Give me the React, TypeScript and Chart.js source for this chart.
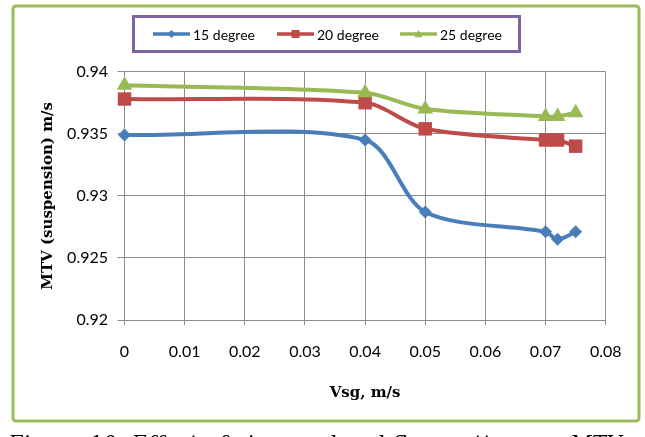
import React, { useEffect, useRef } from 'react';
import { Chart, registerables } from 'chart.js';

Chart.register(...registerables);

// ---- Data ----
const vsg = [0, 0.04, 0.05, 0.07, 0.072, 0.075];
const deg15 = [0.9349, 0.9345, 0.9287, 0.9271, 0.9265, 0.9271];
const deg20 = [0.9378, 0.9375, 0.9354, 0.9345, 0.9345, 0.934];
const deg25 = [0.9389, 0.9383, 0.937, 0.9364, 0.9364, 0.9367];
const seriesNames = ['15 degree', '20 degree', '25 degree'];
const xTickValues = [0, 0.01, 0.02, 0.03, 0.04, 0.05, 0.06, 0.07, 0.08];
const xTickLabels = ['0', '0.01', '0.02', '0.03', '0.04', '0.05', '0.06', '0.07', '0.08'];
const yTickValues = [0.92, 0.925, 0.93, 0.935, 0.94];
const yTickLabels = ['0.92', '0.925', '0.93', '0.935', '0.94'];
const xTitle = 'Vsg, m/s';
const yTitle = 'MTV (suspension) m/s';
const caption = 'Figure 10: Effect of air speed and flow pattern on MTV';

// ---- Styles ----
const colors = ['#4A7EBB', '#BE4B48', '#98B954'];
const markers = ['rectRot', 'rect', 'triangle'];
const markerRadius = [6.5, 9.5, 9];
const legendItemX = [153, 277, 400];

function drawMarker(ctx: CanvasRenderingContext2D, style: string, x: number, y: number, r: number, color: string) {
  ctx.save();
  ctx.fillStyle = color;
  ctx.beginPath();
  if (style === 'rectRot') {
    ctx.moveTo(x, y - r);
    ctx.lineTo(x + r, y);
    ctx.lineTo(x, y + r);
    ctx.lineTo(x - r, y);
  } else if (style === 'rect') {
    ctx.rect(x - r, y - r, 2 * r, 2 * r);
  } else {
    ctx.moveTo(x, y - r);
    ctx.lineTo(x + r, y + r * 0.8);
    ctx.lineTo(x - r, y + r * 0.8);
  }
  ctx.closePath();
  ctx.fill();
  ctx.restore();
}

const framePlugin = {
  id: 'frame',
  beforeDraw(chart: any) {
    const ctx = chart.ctx as CanvasRenderingContext2D;
    ctx.save();
    ctx.fillStyle = '#ffffff';
    ctx.fillRect(0, 0, chart.width, chart.height);
    ctx.strokeStyle = '#9BBB59';
    ctx.lineWidth = 3;
    ctx.beginPath();
    (ctx as any).roundRect ? (ctx as any).roundRect(13, 6, 626, 415, 3) : ctx.rect(13, 6, 626, 415);
    ctx.stroke();
    ctx.restore();
  },
  afterDraw(chart: any) {
    const ctx = chart.ctx as CanvasRenderingContext2D;
    ctx.save();
    ctx.strokeStyle = '#8064A2';
    ctx.lineWidth = 3;
    ctx.strokeRect(133.5, 16.5, 386, 35);
    const cy = 34;
    ctx.font = '14px Lato';
    ctx.textBaseline = 'middle';
    ctx.textAlign = 'left';
    seriesNames.forEach((name, i) => {
      const x0 = legendItemX[i];
      ctx.strokeStyle = colors[i];
      ctx.lineWidth = 3.5;
      ctx.beginPath();
      ctx.moveTo(x0, cy);
      ctx.lineTo(x0 + 37, cy);
      ctx.stroke();
      drawMarker(ctx, markers[i], x0 + 18.5, cy, 4, colors[i]);
      ctx.fillStyle = '#000000';
      ctx.fillText(name, x0 + 40, cy + 1);
    });
    ctx.restore();
  },
};

export default function App() {
  const canvasRef = useRef<HTMLCanvasElement | null>(null);

  useEffect(() => {
    const canvas = canvasRef.current;
    if (!canvas) return;
    const seriesData = [deg15, deg20, deg25];
    const chart = new Chart(canvas, {
      type: 'scatter',
      data: {
        datasets: seriesData.map((vals, i) => ({
          label: seriesNames[i],
          data: vsg.map((x, j) => ({ x, y: vals[j] })),
          showLine: true,
          borderColor: colors[i],
          backgroundColor: colors[i],
          borderWidth: 4,
          tension: 0.3,
          pointStyle: markers[i] as any,
          pointRadius: markerRadius[i],
          pointBorderWidth: 0,
          pointBackgroundColor: colors[i],
          order: 2 - i,
          clip: false as any,
        })),
      },
      options: {
        responsive: false,
        animation: false,
        devicePixelRatio: 1,
        layout: { padding: { left: 0, top: 71.7, right: 39.3, bottom: 0 } },
        plugins: {
          legend: { display: false },
          tooltip: { enabled: false },
          title: { display: false },
        },
        scales: {
          x: {
            type: 'linear',
            min: 0,
            max: 0.08,
            afterBuildTicks: (scale: any) => {
              scale.ticks = xTickValues.map((v) => ({ value: v }));
            },
            afterFit: (scale: any) => {
              scale.height = 117;
            },
            ticks: {
              color: '#000000',
              font: { family: 'Lato', size: 16 },
              padding: 17,
              maxRotation: 0,
              autoSkip: false,
              callback: (_v: any, i: number) => xTickLabels[i],
            },
            grid: { color: '#8C8C8C', lineWidth: 1, tickLength: 5, drawTicks: true },
            border: { color: '#8C8C8C', width: 1 },
            title: {
              display: true,
              text: xTitle,
              color: '#000000',
              font: { family: 'DejaVu Serif', size: 15, weight: 'bold' },
              padding: { top: 0, bottom: 35 },
            },
          },
          y: {
            type: 'linear',
            min: 0.92,
            max: 0.94,
            afterBuildTicks: (scale: any) => {
              scale.ticks = yTickValues.map((v) => ({ value: v }));
            },
            afterFit: (scale: any) => {
              scale.width = 124.5;
            },
            ticks: {
              color: '#000000',
              font: { family: 'Lato', size: 16 },
              padding: 9.5,
              autoSkip: false,
              callback: (_v: any, i: number) => yTickLabels[i],
            },
            grid: { color: '#8C8C8C', lineWidth: 1, tickLength: 7, drawTicks: true },
            border: { color: '#8C8C8C', width: 1 },
            title: {
              display: true,
              text: yTitle,
              color: '#000000',
              font: { family: 'DejaVu Serif', size: 15, weight: 'bold' },
              padding: { top: 39, bottom: 0 },
            },
          },
        },
      },
      plugins: [framePlugin],
    });
    return () => chart.destroy();
  }, []);

  return (
    <div style={{ position: 'absolute', left: 0, top: 0, width: 645, height: 437, overflow: 'hidden', background: '#ffffff' }}>
      <canvas ref={canvasRef} width={645} height={437} style={{ position: 'absolute', left: 0, top: 0, width: 645, height: 437 }} />
      <div
        style={{
          position: 'absolute',
          left: 8,
          top: 433,
          whiteSpace: 'nowrap',
          fontFamily: '"DejaVu Serif", serif',
          fontStyle: 'italic',
          fontSize: 21,
          lineHeight: '21px',
          color: '#000000',
          letterSpacing: '0.5px',
        }}
      >
        {caption}
      </div>
    </div>
  );
}
